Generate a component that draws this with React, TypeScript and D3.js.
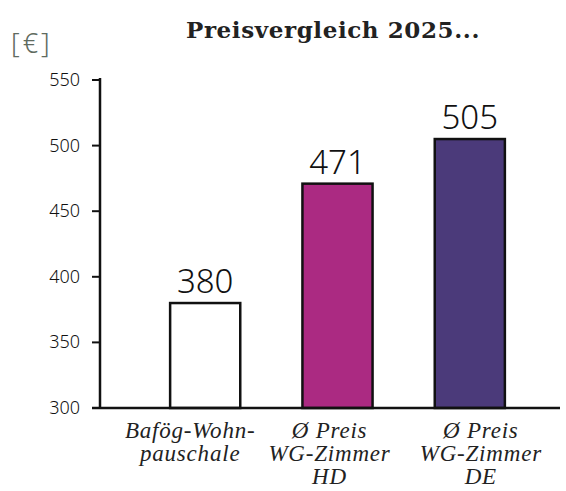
import React, { useEffect, useRef } from "react";
import * as d3 from "d3";

const categories = ["Bafög-Wohnpauschale", "Ø Preis WG-Zimmer HD", "Ø Preis WG-Zimmer DE"];
const categoryLines = [
  ["Bafög-Wohn-", "pauschale"],
  ["Ø Preis", "WG-Zimmer", "HD"],
  ["Ø Preis", "WG-Zimmer", "DE"],
];
const values = [380, 471, 505];
const barColors = ["#ffffff", "#ab2a82", "#4b3a7a"];
const yTicks = [300, 350, 400, 450, 500, 550];
const title = "Preisvergleich 2025...";
const unitLabel = "[€]";

export default function App() {
  const svgRef = useRef<SVGSVGElement>(null);

  useEffect(() => {
    const width = 566;
    const height = 491;
    const axisX = 100;
    const baseY = 408;
    const topY = 80;
    // labels under the bars are not quite centred in the original
    const labelShift = [-15, -8, 11];

    const svg = d3.select(svgRef.current).attr("width", width).attr("height", height);
    svg.selectAll("*").remove();

    const y = d3.scaleLinear().domain([300, 550]).range([baseY, topY]);
    const x = d3
      .scaleBand<string>()
      .domain(categories)
      .range([axisX, 575])
      .paddingInner(0.47)
      .paddingOuter(0.53);

    // Title
    svg
      .append("text")
      .attr("x", 333)
      .attr("y", 38)
      .attr("text-anchor", "middle")
      .style("font-family", "'DejaVu Serif', serif")
      .style("font-weight", "bold")
      .style("font-size", "23px")
      .style("letter-spacing", "0.6px")
      .attr("fill", "#222")
      .text(title);

    // unit
    svg
      .append("text")
      .attr("x", 11)
      .attr("y", 53)
      .style("font-family", "'Noto Sans', sans-serif")
      .style("font-size", "27px")
      .style("font-weight", 300)
      .style("letter-spacing", "3px")
      .attr("fill", "#5f6b5f")
      .text(unitLabel);

    // Bars
    svg
      .append("g")
      .selectAll("rect")
      .data(values)
      .join("rect")
      .attr("x", (d, i) => x(categories[i])!)
      .attr("y", (d) => y(d))
      .attr("width", x.bandwidth())
      .attr("height", (d) => baseY - y(d))
      .attr("fill", (d, i) => barColors[i])
      .attr("stroke", "#111")
      .attr("stroke-width", 2.5);

    // Value labels
    svg
      .append("g")
      .selectAll("text")
      .data(values)
      .join("text")
      .attr("x", (d, i) => x(categories[i])! + x.bandwidth() / 2)
      .attr("y", (d) => y(d) - 10)
      .attr("text-anchor", "middle")
      .style("font-family", "'Noto Sans', sans-serif")
      .style("font-size", "33px")
      .style("font-weight", 300)
      .attr("fill", "#111")
      .text((d) => String(d));

    // Y axis
    const yAxis = svg.append("g");
    yAxis
      .append("line")
      .attr("x1", axisX)
      .attr("x2", axisX)
      .attr("y1", y(550) - 2)
      .attr("y2", baseY)
      .attr("stroke", "#111")
      .attr("stroke-width", 2.5);
    yAxis
      .selectAll("line.tick")
      .data(yTicks)
      .join("line")
      .attr("class", "tick")
      .attr("x1", axisX - 8)
      .attr("x2", axisX)
      .attr("y1", (d) => y(d))
      .attr("y2", (d) => y(d))
      .attr("stroke", "#111")
      .attr("stroke-width", 2);
    yAxis
      .selectAll("text")
      .data(yTicks)
      .join("text")
      .attr("x", axisX - 20)
      .attr("y", (d) => y(d) + 6)
      .attr("text-anchor", "end")
      .style("font-family", "'Noto Sans', sans-serif")
      .style("font-size", "18px")
      .style("font-weight", 300)
      .attr("fill", "#111")
      .text((d) => String(d));

    // X axis line
    svg
      .append("line")
      .attr("x1", axisX - 8)
      .attr("x2", 560)
      .attr("y1", baseY)
      .attr("y2", baseY)
      .attr("stroke", "#111")
      .attr("stroke-width", 2.5);

    // Category labels
    categories.forEach((c, i) => {
      const t = svg
        .append("text")
        .attr("text-anchor", "middle")
        .style("font-family", "'Liberation Serif', serif")
        .style("font-style", "italic")
        .style("font-size", "23px")
        .style("letter-spacing", "0.8px")
        .attr("fill", "#222");
      categoryLines[i].forEach((line, j) => {
        t.append("tspan")
          .attr("x", x(c)! + x.bandwidth() / 2 + labelShift[i])
          .attr("y", 438 + j * 23)
          .text(line);
      });
    });
  }, []);

  return (
    <svg
      ref={svgRef}
      style={{ position: "absolute", left: 0, top: 0, background: "#fff" }}
    />
  );
}
